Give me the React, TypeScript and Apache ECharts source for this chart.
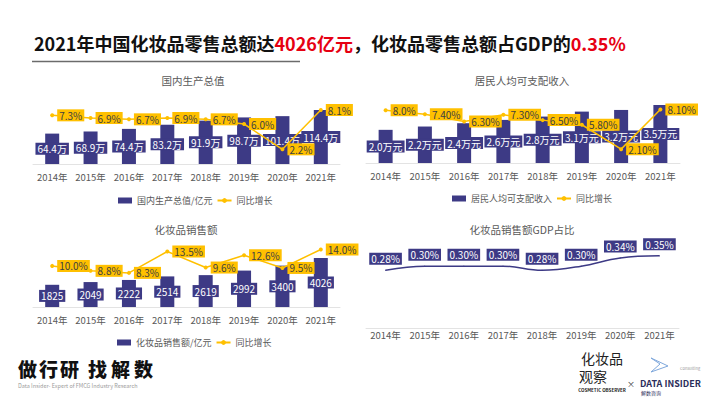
import React, { useEffect, useRef } from 'react';
import * as echarts from 'echarts';

const categories = ['2014年', '2015年', '2016年', '2017年', '2018年', '2019年', '2020年', '2021年'];
const gdpValues = [64.4, 68.9, 74.4, 83.2, 91.9, 98.7, 101.4, 114.4];
const gdpGrowth = [7.3, 6.9, 6.7, 6.9, 6.7, 6.0, 2.2, 8.1];
const incomeValues = [2.0, 2.2, 2.4, 2.6, 2.8, 3.1, 3.2, 3.5];
const incomeGrowth = [8.0, 7.4, 6.3, 7.3, 6.5, 5.8, 2.1, 8.1];
const incomeGrowthLabels = ['8.0%', '7.40%', '6.30%', '7.30%', '6.50%', '5.80%', '2.10%', '8.10%'];
const salesValues = [1825, 2049, 2222, 2514, 2619, 2992, 3400, 4026];
const salesGrowth = [10.0, 8.8, 8.3, 13.5, 9.6, 12.6, 9.5, 14.0];
const shareValues = [0.28, 0.3, 0.3, 0.3, 0.28, 0.3, 0.34, 0.35];

const INDIGO = '#3d3a85';
const YELLOW = '#ffc000';
const GREY = '#595959';
const FONT = "'Noto Sans CJK SC', 'Noto Sans', sans-serif";

function xAxis(grid: number, margin: number) {
  return {
    type: 'category',
    gridIndex: grid,
    data: categories,
    axisTick: { show: false },
    axisLine: { lineStyle: { color: '#e3e3e3', width: 1 } },
    axisLabel: { color: GREY, fontSize: 9.5, margin, interval: 0, fontFamily: FONT },
  };
}

function yAxis(grid: number, max: number) {
  return { type: 'value', gridIndex: grid, min: 0, max, show: false, splitLine: { show: false } };
}

function barSeries(name: string, data: number[], ax: number, ay: number, fmt: (v: number) => string) {
  return {
    type: 'bar',
    name,
    data,
    xAxisIndex: ax,
    yAxisIndex: ay,
    barWidth: 14,
    z: 2,
    itemStyle: { color: INDIGO },
    label: {
      show: true,
      position: 'inside',
      formatter: (p: any) => fmt(p.value),
      color: '#fff',
      fontSize: 10,
      fontFamily: FONT,
      backgroundColor: INDIGO,
      padding: [1, 2],
    },
  };
}

function growthSeries(data: number[], ax: number, ay: number, fmt: (v: number, i: number) => string) {
  return {
    type: 'line',
    name: '同比增长',
    data,
    xAxisIndex: ax,
    yAxisIndex: ay,
    z: 5,
    symbol: 'circle',
    symbolSize: 4,
    itemStyle: { color: YELLOW },
    lineStyle: { color: YELLOW, width: 1.5 },
    label: {
      show: true,
      position: 'right',
      distance: 3,
      formatter: (p: any) => fmt(p.value, p.dataIndex),
      color: '#404040',
      fontSize: 10,
      fontFamily: FONT,
      backgroundColor: YELLOW,
      padding: [1, 2],
    },
  };
}

function legend(left: number, top: number, barName: string) {
  return {
    left,
    top,
    itemWidth: 14,
    itemHeight: 6,
    itemGap: 4,
    textStyle: { color: GREY, fontSize: 9, fontFamily: FONT },
    data: [{ name: barName, icon: 'rect' }, '同比增长'],
  };
}

function title(text: string, x: number, y: number) {
  return {
    type: 'text',
    x,
    y,
    style: {
      text,
      fill: GREY,
      fontSize: 10.5,
      fontFamily: FONT,
      textAlign: 'center',
      textVerticalAlign: 'middle',
      align: 'center',
      verticalAlign: 'middle',
    },
  };
}

function plain(text: string, x: number, y: number, size: number, color: string, weight: string | number = 'normal', align = 'left') {
  return {
    type: 'text',
    x,
    y,
    style: {
      text,
      fill: color,
      fontSize: size,
      lineHeight: size,
      fontWeight: weight,
      fontFamily: FONT,
      textAlign: align,
      textVerticalAlign: 'middle',
      align,
      verticalAlign: 'middle',
    },
  };
}

export default function App() {
  const ref = useRef<HTMLDivElement>(null);
  useEffect(() => {
    document.body.style.margin = '0';
    if (!ref.current) return;
    const chart = echarts.init(ref.current, undefined, { renderer: 'svg' });
    const footerChars = ['做', '行', '研', '找', '解', '数'];
    const footerX = [18, 39, 60, 88, 111, 134];
    chart.setOption({
      animation: false,
      backgroundColor: '#fff',
      textStyle: { fontFamily: FONT },
      grid: [
        { left: 33, top: 100, width: 307, height: 64 },
        { left: 366, top: 100, width: 314, height: 63 },
        { left: 33, top: 240, width: 307, height: 67 },
        { left: 366, top: 240, width: 313, height: 88 },
      ],
      xAxis: [xAxis(0, 8), xAxis(1, 8), xAxis(2, 8), xAxis(3, 2)],
      yAxis: [
        yAxis(0, 135.6),
        yAxis(0, 9.6),
        yAxis(1, 3.8),
        yAxis(1, 9.55),
        yAxis(2, 5505),
        yAxis(2, 16.3),
        yAxis(3, 0.427),
      ],
      legend: [
        legend(113, 191, '国内生产总值/亿元'),
        legend(447, 189, '居民人均可支配收入'),
        legend(112, 333, '化妆品销售额/亿元'),
      ],
      series: [
        barSeries('国内生产总值/亿元', gdpValues, 0, 0, (v) => v.toFixed(1) + '万'),
        growthSeries(gdpGrowth, 0, 1, (v) => v.toFixed(1) + '%'),
        barSeries('居民人均可支配收入', incomeValues, 1, 2, (v) => v.toFixed(1) + '万元'),
        growthSeries(incomeGrowth, 1, 3, (_v, i) => incomeGrowthLabels[i]),
        barSeries('化妆品销售额/亿元', salesValues, 2, 4, (v) => String(v)),
        growthSeries(salesGrowth, 2, 5, (v) => v.toFixed(1) + '%'),
        {
          type: 'line',
          name: '化妆品销售额GDP占比',
          data: shareValues,
          xAxisIndex: 3,
          yAxisIndex: 6,
          smooth: 0.4,
          symbol: 'circle',
          symbolSize: 1,
          itemStyle: { color: INDIGO },
          lineStyle: { color: INDIGO, width: 1.5 },
          label: {
            show: true,
            position: 'top',
            distance: 5,
            formatter: (p: any) => p.value.toFixed(2) + '%',
            color: '#fff',
            fontSize: 10,
            fontFamily: FONT,
            backgroundColor: INDIGO,
            padding: [1, 2],
          },
        },
      ],
      graphic: [
        {
          type: 'text',
          x: 34,
          y: 43,
          style: {
            text: '{a|2021年中国化妆品零售总额达}{r|4026亿元}{a|，化妆品零售总额占GDP的}{r|0.35%}',
            verticalAlign: 'middle',
            textVerticalAlign: 'middle',
            rich: {
              a: { fontSize: 18, fontWeight: 'bold', fill: '#111', color: '#111', fontFamily: FONT },
              r: { fontSize: 18, fontWeight: 'bold', fill: '#e60012', color: '#e60012', fontFamily: FONT },
            },
          },
        },
        { type: 'line', shape: { x1: 32, y1: 61.5, x2: 300, y2: 61.5 }, style: { stroke: '#6b6b6b', lineWidth: 1.5 } },
        title('国内生产总值', 193, 80),
        title('居民人均可支配收入', 522, 80),
        title('化妆品销售额', 186, 229),
        title('化妆品销售额GDP占比', 522, 229),
        ...footerChars.map((c, i) => plain(c, footerX[i], 368, 19, '#111', 900)),
        plain('Data Insider- Expert of FMCG Industry Research', 18, 386, 5.5, '#9a9a9a'),
        plain('化妆品', 602, 358, 14, '#222', 'normal', 'center'),
        plain('观察', 593, 376, 14, '#222', 'normal', 'center'),
        plain('COSMETIC OBSERVER', 602, 390, 4.5, '#222', 'bold', 'center'),
        plain('×', 631, 383, 8, '#333', 'normal', 'center'),
        plain('DATA INSIDER', 640, 383, 9, '#2b2d5a', 'bold'),
        plain('解数咨询', 641, 392, 5, '#2b2d5a'),
        plain('Consulting', 680, 368, 4, '#999'),
        {
          type: 'polyline',
          shape: { points: [[651, 358], [668, 366], [651, 372], [660, 364], [651, 358]] },
          style: { stroke: '#7fa8dc', lineWidth: 1, fill: 'none' },
        },
      ],
    });
    return () => chart.dispose();
  }, []);
  return <div ref={ref} style={{ position: 'absolute', left: 0, top: 0, width: 710, height: 399 }} />;
}
